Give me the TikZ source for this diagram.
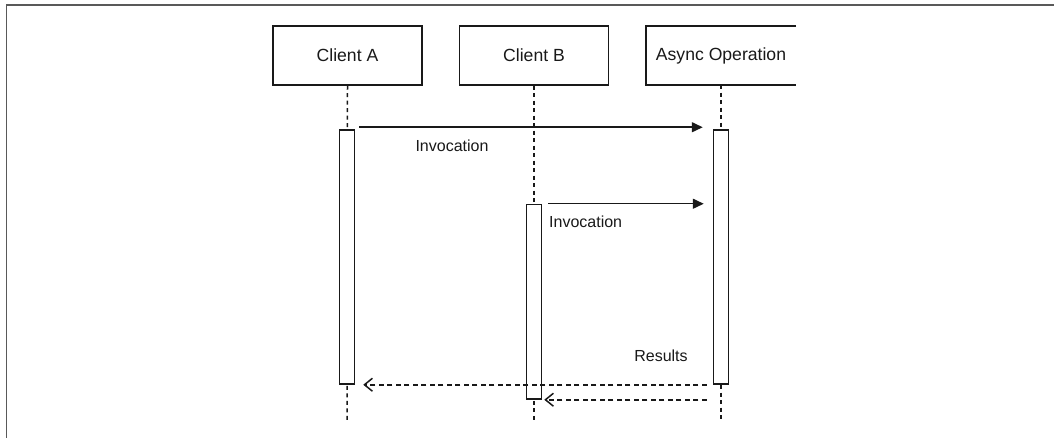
\documentclass[tikz,border=0pt]{standalone}
\usepackage{fontspec}
\setmainfont{Liberation Sans}
\usetikzlibrary{arrows.meta,calc}
\begin{document}
\begin{tikzpicture}[x=1pt,y=-1pt,
  actor/.style={draw=black!90,line width=1.5pt,minimum width=149pt,minimum height=59pt,inner sep=0pt,
    font=\fontsize{17.6}{20}\selectfont,text=black!90},
  actoropen/.style={minimum width=150pt,minimum height=59pt,inner sep=0pt,
    font=\fontsize{17.6}{20}\selectfont,text=black!90},
  bar/.style={draw=black!90,line width=1.5pt,fill=white,minimum width=15pt,inner sep=0pt},
  life/.style={draw=black!90,line width=1.5pt,dash pattern=on 4pt off 3.5pt},
  call/.style={draw=black!90,line width=1.5pt,-{Triangle[length=11pt,width=10pt]}},
  reply/.style={draw=black!90,line width=1.5pt,dash pattern=on 5pt off 3.5pt,-{Straight Barb[length=8pt,width=13pt,line width=1.5pt]}},
  lbl/.style={font=\fontsize{16}{19}\selectfont,text=black!90,inner sep=0pt}
]
\useasboundingbox (0,0) rectangle (1054,438);
\fill[white] (0,0) rectangle (1054,438);
% frame
\draw[draw=black!65,line width=1.6pt] (6.5,438) -- (6.5,5) -- (1054,5);

% actors
\node[actor] (ca) at (347.5,55.5) {Client A};
\node[actor] (cb) at (534,55.5) {Client B};
\node[actoropen] (co) at (721,55.5) {Async Operation};
\draw[draw=black!90,line width=1.5pt] (co.north east) -- (co.north west) -- (co.south west) -- (co.south east);

% lifeline end points
\coordinate (ea) at (347,421);
\coordinate (eb) at (534,421);
\coordinate (eo) at (721,421);

% lifelines
\draw[life] (ca.south) -- (ea);
\draw[life] (cb.south) -- (eb);
\draw[life] (co.south) -- (eo);

% activation bars
\node[bar,minimum height=254pt] (abar) at (347,257) {};
\node[bar,minimum height=194.5pt] (bbar) at (534,301.75) {};
\node[bar,minimum height=254pt] (obar) at (721,257) {};

% messages
\draw[call] ($(abar.north east)+(4,-2)$) -- ($(obar.north west)+(-10,-2)$);
\node[lbl] at (452,146) {Invocation};
\draw[call] ($(bbar.north east)+(6,0)$) -- ($(obar.west |- bbar.north)+(-9,0)$);
\node[lbl,anchor=west] at (549,221.5) {Invocation};
\node[lbl] at (661,356) {Results};
\draw[reply] ($(obar.south west)+(-6,0)$) -- ($(abar.south east)+(8,0)$);
\draw[reply] ($(obar.west |- bbar.south)+(-6,0)$) -- ($(bbar.south east)+(2,0)$);
\end{tikzpicture}
\end{document}
